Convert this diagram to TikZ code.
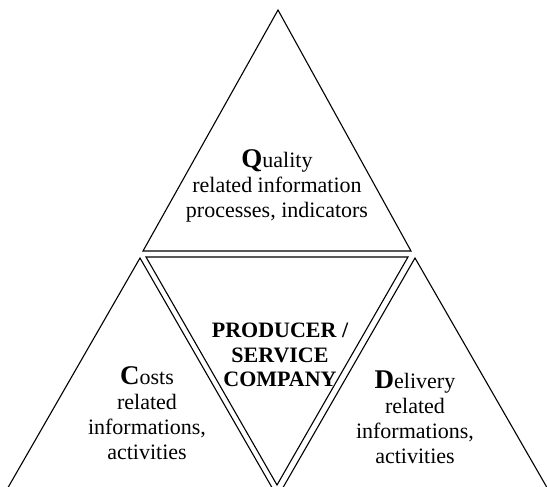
\documentclass[tikz,border=0pt]{standalone}
\usepackage{fontspec}
\setmainfont{Liberation Serif}
\usetikzlibrary{calc,positioning}

\newcommand{\BigInitial}[1]{{\fontsize{27}{25}\selectfont\bfseries #1}}

\begin{document}
\begin{tikzpicture}[x=1pt,y=-1pt,
    side/.style={line width=1.1pt, line join=miter},
    infotext/.style={align=center, inner sep=0pt,
        font=\fontsize{22}{25}\selectfont},
    centertext/.style={infotext, font=\fontsize{22}{24.5}\selectfont\bfseries}]

    \useasboundingbox (0,0) rectangle (547,487);
    \clip (0,0) rectangle (547,487);

    % quality triangle (top)
    \coordinate (Q1) at (278,10);
    \coordinate (Q2) at (143,251);
    \coordinate (Q3) at (411,251);

    % company triangle (middle, upside down)
    \coordinate (P1) at (146,257);
    \coordinate (P2) at (408,257);
    \coordinate (P3) at (277,485);

    % costs triangle (left), cut by the page
    \coordinate (C1) at (140,258);
    \coordinate (C2) at (2,498);
    \coordinate (C3) at (278,498);

    % delivery triangle (right), cut by the page
    \coordinate (D1) at (415,258);
    \coordinate (D2) at (277,498);
    \coordinate (D3) at (553,498);

    \draw[side] (Q1) -- (Q2) -- (Q3) -- cycle;
    \draw[side] (P1) -- (P2) -- (P3) -- cycle;
    \draw[side] (C1) -- (C2) -- (C3) -- cycle;
    \draw[side] (D1) -- (D2) -- (D3) -- cycle;

    \node[infotext] (quality) at (277,186)
        {\BigInitial{Q}uality\\related information\\processes, indicators};
    \node[centertext] (company) at (280,355)
        {PRODUCER /\\SERVICE\\COMPANY};
    \node[infotext] (costs) at (147,413)
        {\BigInitial{C}osts\\related\\informations,\\activities};
    \node[infotext] (delivery) at (415,417)
        {\BigInitial{D}elivery\\related\\informations,\\activities};

\end{tikzpicture}
\end{document}
